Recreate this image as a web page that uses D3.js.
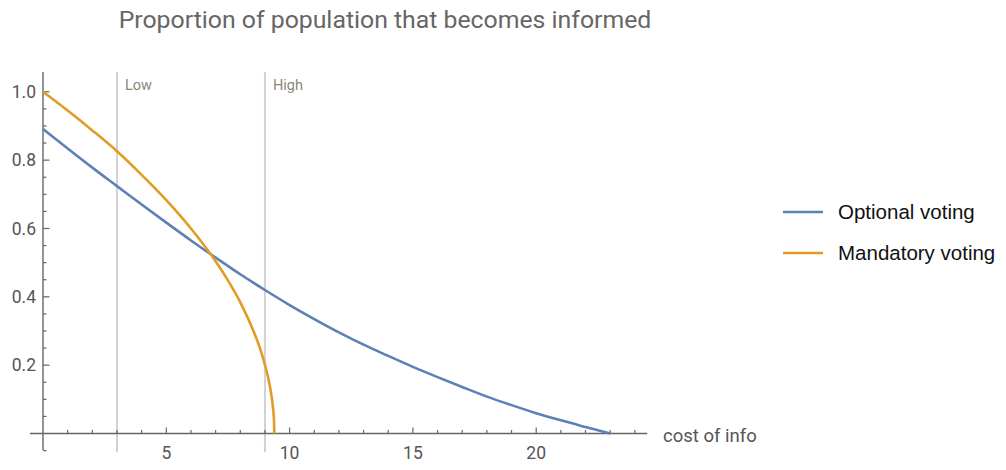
<!DOCTYPE html>
<html lang="en">
<head>
  <meta charset="UTF-8">
  <title>Proportion informed</title>
  <script src="https://d3js.org/d3.v7.min.js"></script>
  <style>
    body { margin: 0; background: #fff; }
    text { font-family: Roboto, "Liberation Sans", sans-serif; }
  </style>
</head>
<body>
<script>
  // data
  const optionalCost = [0, 1, 2, 3, 4, 5, 6, 7, 8, 9, 10, 11, 12, 13, 14, 15, 16, 17, 18, 19, 20, 21, 22, 23];
  const optionalShare = [0.891, 0.834, 0.778, 0.724, 0.670, 0.617, 0.565, 0.515, 0.466, 0.420, 0.376, 0.335,
    0.296, 0.260, 0.227, 0.195, 0.165, 0.136, 0.108, 0.083, 0.0595, 0.0385, 0.019, 0];
  const mandatoryCost = [0, 1, 2, 3, 4, 5, 6, 7, 7.5, 8, 8.5, 8.8, 9, 9.2, 9.3, 9.35, 9.37, 9.38];
  const mandatoryShare = [1.0, 0.945, 0.887, 0.826, 0.757, 0.683, 0.600, 0.504, 0.448, 0.384, 0.306, 0.249,
    0.201, 0.139, 0.092, 0.057, 0.033, 0];
  const markers = [{x: 3, label: 'Low'}, {x: 9, label: 'High'}];
  const xMajor = [5, 10, 15, 20];
  const yMajor = [0.2, 0.4, 0.6, 0.8, 1.0];
  const seriesNames = ['Optional voting', 'Mandatory voting'];
  const colors = ['#5e81b5', '#e19c24'];

  const width = 1006, height = 470;
  const x = d3.scaleLinear().domain([0, 5]).range([43, 166.3]);
  const y = d3.scaleLinear().domain([0, 1]).range([433.5, 91.8]);

  const svg = d3.select('body').append('svg')
    .attr('width', width).attr('height', height);

  // title
  svg.append('text')
    .attr('x', 385).attr('y', 28)
    .attr('text-anchor', 'middle')
    .style('font-size', '24.8px')
    .style('fill', '#666')
    .text('Proportion of population that becomes informed');

  // Low / High lines
  const mk = svg.append('g');
  mk.selectAll('line').data(markers).join('line')
    .attr('x1', d => x(d.x)).attr('x2', d => x(d.x))
    .attr('y1', y(1.058)).attr('y2', y(-0.055))
    .attr('stroke', '#d2d2d2').attr('stroke-width', 2);
  mk.selectAll('text').data(markers).join('text')
    .attr('x', d => x(d.x) + 8).attr('y', 90)
    .style('font-size', '14.5px')
    .style('fill', '#8c8676')
    .text(d => d.label);

  // x axis
  const xAxis = svg.append('g').attr('transform', `translate(0,${y(0)})`);
  xAxis.append('line')
    .attr('x1', x(-0.53)).attr('x2', x(24.5))
    .attr('stroke', '#666').attr('stroke-width', 1.4);
  xAxis.selectAll('.minor').data(d3.range(1, 25).filter(v => v % 5 !== 0)).join('line')
    .attr('x1', d => x(d)).attr('x2', d => x(d))
    .attr('y1', 0).attr('y2', -3.5)
    .attr('stroke', '#666').attr('stroke-width', 1.2);
  xAxis.selectAll('.major').data(xMajor).join('line')
    .attr('x1', d => x(d)).attr('x2', d => x(d))
    .attr('y1', 0).attr('y2', -6)
    .attr('stroke', '#666').attr('stroke-width', 1.2);
  xAxis.selectAll('text').data(xMajor).join('text')
    .attr('x', d => x(d)).attr('y', 25)
    .attr('text-anchor', 'middle')
    .style('font-size', '17.5px')
    .style('fill', '#555')
    .text(d => d);
  svg.append('text')
    .attr('x', 663).attr('y', 442)
    .style('font-size', '18.5px')
    .style('fill', '#555')
    .text('cost of info');

  // y axis
  const yAxis = svg.append('g').attr('transform', `translate(${x(0)},0)`);
  yAxis.append('line')
    .attr('y1', y(1.058)).attr('y2', y(-0.048))
    .attr('stroke', '#666').attr('stroke-width', 1.4);
  const yMinor = d3.range(-1, 21).map(i => i * 0.05).filter(v => Math.round(v * 100) % 20 !== 0);
  yAxis.selectAll('.minor').data(yMinor).join('line')
    .attr('y1', d => y(d)).attr('y2', d => y(d))
    .attr('x1', 0).attr('x2', 3.5)
    .attr('stroke', '#666').attr('stroke-width', 1.2);
  yAxis.selectAll('.major').data(yMajor).join('line')
    .attr('y1', d => y(d)).attr('y2', d => y(d))
    .attr('x1', 0).attr('x2', 6.5)
    .attr('stroke', '#666').attr('stroke-width', 1.2);
  yAxis.selectAll('text').data(yMajor).join('text')
    .attr('x', -7).attr('y', d => y(d))
    .attr('dy', '0.35em')
    .attr('text-anchor', 'end')
    .style('font-size', '17.5px')
    .style('fill', '#555')
    .text(d => d3.format('.1f')(d));

  // curves
  const line = d3.line()
    .x(d => x(d[0]))
    .y(d => y(d[1]))
    .curve(d3.curveMonotoneX);

  const series = [
    d3.zip(optionalCost, optionalShare),
    d3.zip(mandatoryCost, mandatoryShare)
  ];
  svg.append('g').selectAll('path').data(series).join('path')
    .attr('fill', 'none')
    .attr('stroke', (d, i) => colors[i])
    .attr('stroke-width', 2.6)
    .attr('d', line);

  // legend
  const lg = svg.append('g').selectAll('g').data(seriesNames).join('g')
    .attr('transform', (d, i) => `translate(783,${212 + i * 41})`);
  lg.append('line')
    .attr('x1', 0).attr('x2', 40)
    .attr('stroke', (d, i) => colors[i])
    .attr('stroke-width', 2.6);
  lg.append('text')
    .attr('x', 55).attr('dy', '0.35em')
    .style('font-family', '"Liberation Sans", Arial, sans-serif')
    .style('font-size', '20.5px')
    .style('fill', '#111')
    .text(d => d);
</script>
</body>
</html>
